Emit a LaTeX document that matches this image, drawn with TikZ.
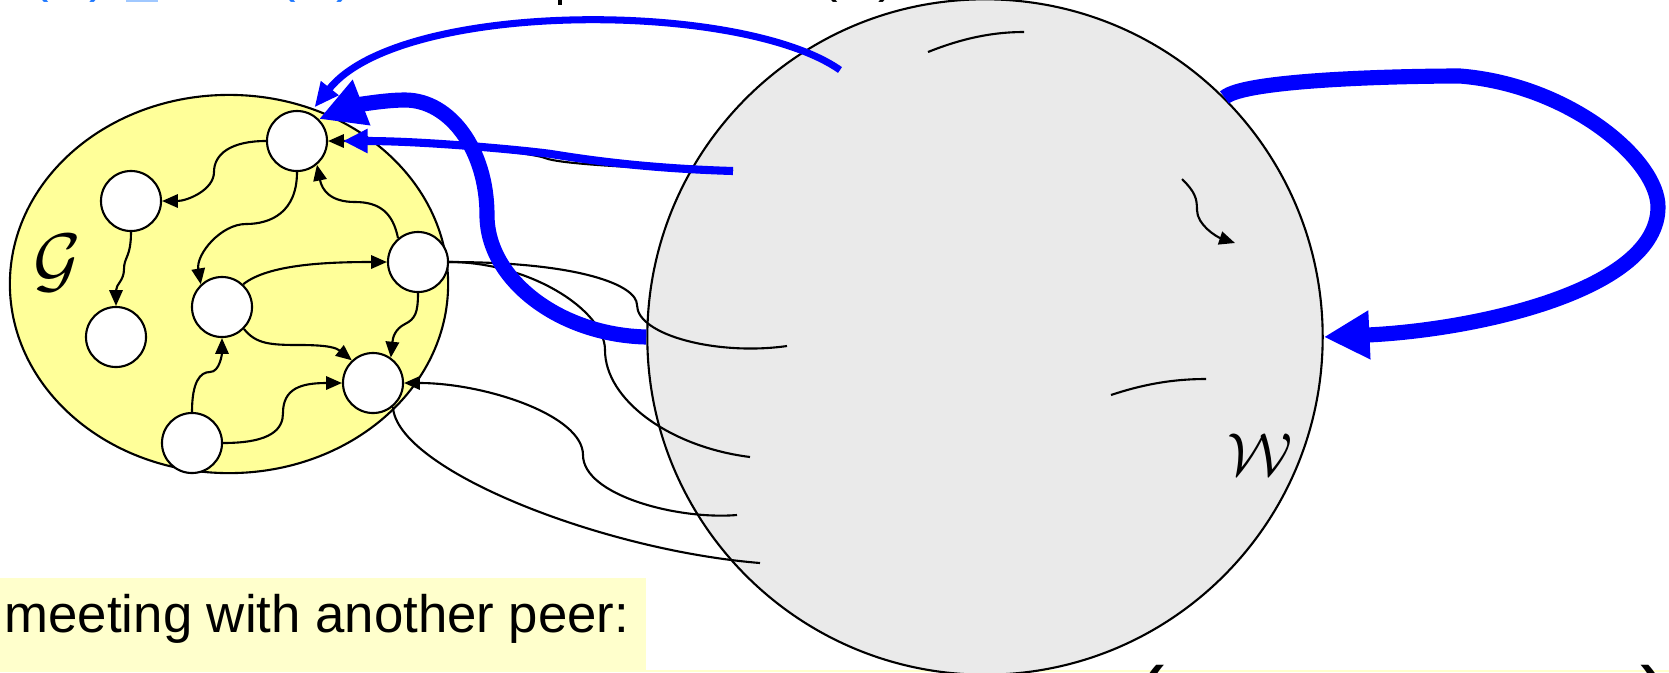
\documentclass[tikz,border=0pt]{standalone}
\usepackage{fontspec}
\setmainfont{Liberation Sans}
\usepackage{amsmath}
\usetikzlibrary{arrows.meta,shapes.geometric}
\definecolor{peeryellow}{RGB}{255,255,153}
\definecolor{boxyellow}{RGB}{255,255,204}
\definecolor{worldgray}{RGB}{234,234,234}
\definecolor{linkblue}{RGB}{0,0,255}
\definecolor{textblue}{RGB}{30,120,255}
\definecolor{barblue}{RGB}{160,200,255}

\begin{document}
\begin{tikzpicture}[x=0.01cm,y=-0.01cm,
    peer/.style={circle,draw,fill=white,line width=0.6pt,minimum size=0.6cm,inner sep=0pt},
    link/.style={line width=0.6pt,-{Triangle[length=4.5pt,width=3.8pt]}},
    wire/.style={line width=0.6pt},
    gossip/.style={linkblue,line width=#1}]

    \useasboundingbox (0,0) rectangle (1669,672);

    % Yellow boxes
    \fill[boxyellow] (0,578) rectangle (646,672);
    \fill[boxyellow] (646,670) rectangle (1669,672);
    \node[anchor=base west,inner sep=0pt,font=\fontsize{15}{18}\selectfont] (caption) at (4,632) {meeting with another peer:};

    % Lines of text cut by the frame
    \node[anchor=south,inner sep=0pt,textblue,font=\fontsize{15}{18}\selectfont] (t1) at (40,3) {(};
    \node[anchor=south,inner sep=0pt,textblue,font=\fontsize{15}{18}\selectfont] (t2) at (98,3) {)};
    \node[anchor=south,inner sep=0pt,textblue,font=\fontsize{15}{18}\selectfont] (t3) at (287,3) {(};
    \node[anchor=south,inner sep=0pt,textblue,font=\fontsize{15}{18}\selectfont] (t4) at (345,3) {)};
    \node[anchor=south,inner sep=0pt,font=\fontsize{15}{18}\selectfont] (t5) at (829,3) {(};
    \node[anchor=south,inner sep=0pt,font=\fontsize{15}{18}\selectfont] (t6) at (887,3) {)};
    \fill[barblue] (126,0) rectangle (158,2);
    \draw[line width=1.2pt] (560,0) -- (560,5);
    \node[anchor=north,inner sep=0pt,font=\fontsize{26}{26}\rmfamily] (t7) at (1150,665) {(};
    \node[anchor=north,inner sep=0pt,font=\fontsize{26}{26}\rmfamily] (t8) at (1656,665) {)};

    % World W
    \node[circle,draw,fill=worldgray,line width=0.6pt,minimum size=6.75cm,inner sep=0pt] (W) at (985,337) {};
    \node[font=\fontsize{19}{19}\selectfont] (wlabel) at (1260,455) {$\mathcal{W}$};

    % Peer graph G
    \node[ellipse,draw,fill=peeryellow,line width=0.6pt,minimum width=4.38cm,minimum height=3.78cm,inner sep=0pt] (G) at (229,284) {};
    \node[font=\fontsize{20}{20}\selectfont] (glabel) at (57,263) {$\mathcal{G}$};
    \foreach \n/\x/\y in {n1/297/141,n2/131/201,n3/116/337,n4/222/307,n5/418/262,n6/373/383,n7/192/443}
        \node[peer] (\n) at (\x,\y) {};

    % Edges inside G
    \draw[link] (n1.west) .. controls +(-35,0) and +(0,-18) .. (214,172) .. controls +(0,18) and +(25,0) .. (n2.east);
    \draw[link] (n2.south) .. controls +(0,25) and +(0,-12) .. (124,269) .. controls +(0,12) and +(0,-22) .. (n3.north);
    \draw[link] (n1.south) .. controls +(0,40) and +(25,0) .. (246,224) .. controls +(-25,0) and +(-5,-30) .. (n4.133);
    \draw[link] (n5.130) .. controls +(-5,-25) and +(25,0) .. (355,202) .. controls +(-25,0) and +(5,25) .. (n1.-50);
    \draw[link] (n4.47) .. controls +(25,-20) and +(-60,0) .. (n5.west);
    \draw[link] (n4.-45) .. controls +(12,15) and +(-30,0) .. (300,345) .. controls +(30,0) and +(-15,-12) .. (n6.133);
    \draw[link] (n5.south) .. controls +(0,20) and +(10,-5) .. (405,324) .. controls +(-10,5) and +(2,-20) .. (n6.55);
    \draw[link] (n7.north) .. controls +(0,-30) and +(-10,0) .. (210,372) .. controls +(10,0) and +(0,15) .. (n4.south);
    \draw[link] (n7.east) .. controls +(50,0) and +(0,15) .. (283,413) .. controls +(0,-25) and +(-40,0) .. (n6.west);

    % Edges from G into W
    \coordinate (w1) at (787,346);
    \coordinate (w2) at (750,457);
    \coordinate (w3) at (737,515);
    \coordinate (w4) at (760,563);
    \draw[wire] (n5.east) .. controls +(130,0) and +(0,-20) .. (637,305) .. controls +(0,30) and +(-70,10) .. (w1);
    \draw[wire] (n5.east) .. controls +(80,0) and +(0,-40) .. (605,350) .. controls +(0,50) and +(-80,-10) .. (w2);
    \draw[link] (w3) .. controls +(-60,5) and +(0,40) .. (583,455) .. controls +(0,-40) and +(80,0) .. (n6.east);
    \draw[wire] (n6.-50) .. controls +(3,62) and +(-160,-13) .. (w4);

    % Edges inside W
    \coordinate (w5) at (928,52);
    \coordinate (w6) at (1024,32);
    \coordinate (w7) at (1182,179);
    \coordinate (w8) at (1235,243);
    \coordinate (w9) at (1111,395);
    \coordinate (w10) at (1206,379);
    \draw[wire] (w5) .. controls +(30,-12) and +(-35,0) .. (w6);
    \draw[link] (w7) .. controls +(13,13) and +(0,-12) .. (1197,210) .. controls +(0,15) and +(-18,-6) .. (w8);
    \draw[wire] (w9) .. controls +(30,-10) and +(-35,0) .. (w10);

    % Gossip arrows
    \coordinate (c1) at (840,70);
    \coordinate (c2) at (733,171);
    \draw[link] (c2) .. controls +(-100,-3) and +(15,6) .. (545,158) .. controls +(-15,-6) and +(90,0) .. (n1.east);
    \draw[gossip=2.3pt,-{Triangle[length=7pt,width=6.5pt]},shorten >=0.15cm] (c2) .. controls +(-100,-3) and +(20,3) .. (551,154) .. controls +(-20,-3) and +(100,0) .. (n1.east);
    \draw[gossip=2pt,-{Triangle[length=7pt,width=6pt]},shorten >=2pt] (c1) .. controls (740,0) and (400,0) .. (n1.65);
    \draw[gossip=4.3pt,-{Triangle[length=13pt,width=13pt]}] (W.west) .. controls (560,335) and (487,280) .. (487,215) .. controls (487,150) and (450,100) .. (405,100) .. controls (380,100) and (350,107) .. (n1.45);
    \draw[gossip=4.3pt,-{Triangle[length=13pt,width=13pt]}] (W.45) .. controls +(20,-18) and +(-60,0) .. (1460,76) .. controls +(110,9) and +(0,-47) .. (1658,207) .. controls +(0,83) and +(153,-7) .. (W.east);
\end{tikzpicture}
\end{document}
